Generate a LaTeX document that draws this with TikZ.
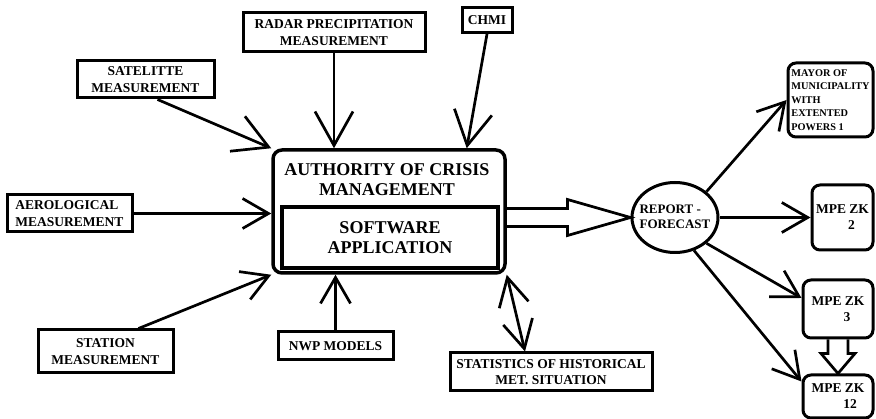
\documentclass[tikz,border=0pt]{standalone}
\usepackage{fontspec}
\setmainfont{Liberation Serif}
\usepackage{tikz}
\usetikzlibrary{shapes.geometric,arrows.meta,calc}

\tikzstyle{source} = [rectangle, draw, line width=3pt, align=center,
inner sep=2pt, font=\fontsize{13.5}{16.5}\selectfont\bfseries]
\tikzstyle{office} = [rectangle, draw, line width=3pt, rounded corners=8pt,
align=center, inner sep=1.5pt, font=\fontsize{13.5}{16}\selectfont\bfseries]
\tikzstyle{bigtext} = [align=center, font=\fontsize{18}{20}\selectfont\bfseries]
\tikzstyle{line} = [draw, line width=2.7pt, -{Straight Barb[length=26pt,width=30pt]}]
\tikzstyle{bigline} = [draw, line width=2.7pt, -{Straight Barb[length=34pt,width=38pt]}]
\tikzstyle{twoway} = [draw, line width=2.7pt,
{Straight Barb[length=28pt,width=30pt]}-{Straight Barb[length=28pt,width=30pt]}]
\tikzstyle{block} = [draw, line width=2.7pt, line join=miter]

\begin{document}
\begin{tikzpicture}[x=1pt, y=-1pt]
\useasboundingbox (0,0) rectangle (876,419);
% Place nodes
\node [source, minimum width=182, minimum height=39] (radar) at (334,32.5) {RADAR PRECIPITATION\\MEASUREMENT};
\node [source, minimum width=50, minimum height=25] (chmi) at (487,20) {CHMI};
\node [source, minimum width=137, minimum height=37] (sat) at (145.5,79.5) {SATELITTE\\MEASUREMENT};
\node [source, align=left, minimum width=125, minimum height=37] (aero) at (69.5,213.5) {AEROLOGICAL\\MEASUREMENT};
\node [source, minimum width=135, minimum height=43] (station) at (105.5,351.5) {STATION\\MEASUREMENT};
\node [source, minimum width=115, minimum height=28] (nwp) at (335.5,346) {NWP MODELS};
\node [source, minimum width=202, minimum height=38] (stats) at (551,372) {STATISTICS OF HISTORICAL\\MET. SITUATION};

\node [draw, line width=3.5pt, rounded corners=9pt, minimum width=232, minimum height=123] (auth) at (389,211.5) {};
\node [bigtext] (authtxt) at (387,180) {AUTHORITY OF CRISIS\\MANAGEMENT};
\node [draw, line width=3.5pt, bigtext, minimum width=216, minimum height=61] (soft) at (390,237.5) {SOFTWARE\\APPLICATION};

\node [draw, ellipse, line width=3pt, minimum width=86, minimum height=70, inner sep=0pt] (rep) at (675,217.5) {};
\node [align=left, inner sep=0pt, font=\fontsize{13}{15.5}\selectfont\bfseries] (reptxt) at (675,217) {REPORT -\\FORECAST};

\node [office, align=left, minimum width=85, minimum height=74, font=\fontsize{10.3}{13.5}\selectfont\bfseries] (mayor) at (830.5,100) {MAYOR OF\\MUNICIPALITY\\WITH\\EXTENTED\\POWERS 1};
\node [office, minimum width=61, minimum height=65] (mpe2) at (842.5,217.5) {MPE ZK\\\hspace*{18pt}2};
\node [office, minimum width=70, minimum height=58] (mpe3) at (838,309) {MPE ZK\\\hspace*{18pt}3};
\node [office, minimum width=70, minimum height=43] (mpe12) at (838,396.5) {MPE ZK\\\hspace*{24pt}12};

\coordinate (authout) at (auth.east |- rep.west);

% Draw edges
\path [bigline] (radar.south) -- (radar.south |- auth.north);
\path [bigline] (chmi.south) -- ([xshift=-40pt]auth.north east);
\path [bigline] ([xshift=12pt]sat.south) -- (auth.north west);
\path [line] (aero.east) -- (auth.west |- aero.east);
\path [line] ([xshift=33pt]station.north) -- (auth.south west);
\path [line] (nwp.north) -- (nwp.north |- auth.south);
\path [twoway] (auth.south east) -- ([xshift=-26pt]stats.north);

\path [block] ($(authout)+(0,-9)$) -- ($(rep.west)+(-63,-9)$) -- ($(rep.west)+(-63,-18)$)
  -- (rep.west) -- ($(rep.west)+(-63,18)$) -- ($(rep.west)+(-63,9)$) -- ($(authout)+(0,9)$);

\path [line] (rep.north east) -- (mayor.west);
\path [line] (rep.east) -- (mpe2.west);
\path [line] (rep.south east) -- ([yshift=11pt]mpe3.west);
\path [line] (rep.-60) -- ([yshift=-8pt]mpe12.north west);

\path [block] ($(mpe3.south)+(-10,0)$) -- ($(mpe12.north)+(-10,-20)$) -- ($(mpe12.north)+(-17,-20)$)
  -- (mpe12.north) -- ($(mpe12.north)+(17,-20)$) -- ($(mpe12.north)+(10,-20)$) -- ($(mpe3.south)+(10,0)$);
\end{tikzpicture}
\end{document}
